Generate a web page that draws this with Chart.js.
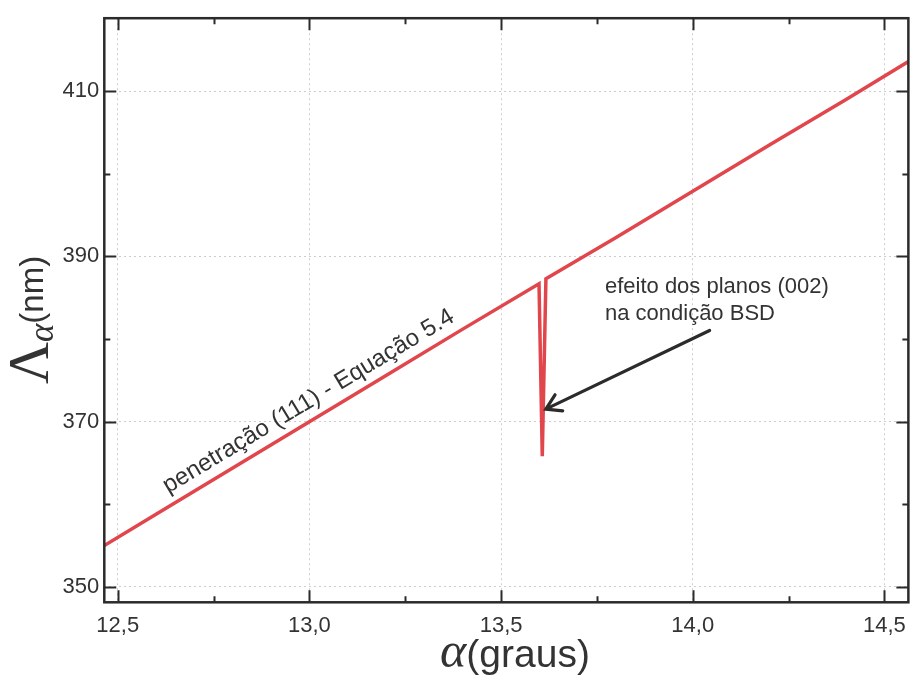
<!DOCTYPE html>
<html>
<head>
<meta charset="utf-8">
<script src="https://cdn.jsdelivr.net/npm/chart.js@4.4.1/dist/chart.umd.min.js"></script>
<style>
  html, body { margin: 0; padding: 0; background: #fff; }
  #wrap { width: 916px; height: 680px; position: relative; }
</style>
</head>
<body>
<div id="wrap"><canvas id="c" width="916" height="680"></canvas></div>
<script>
// Penetration depth Λα (nm) versus incidence angle α (degrees)
const alphaDeg = [12.465, 12.6, 12.8, 13.0, 13.2, 13.4, 13.599, 13.6075, 13.617, 13.8, 14.0, 14.2, 14.4, 14.5625];
const lambdaNm = [355.0, 358.8, 364.4, 370.0, 375.6, 381.2, 386.7, 365.8, 387.3, 392.3, 397.9, 403.5, 409.0, 413.6];

const xTicks = [12.5, 13.0, 13.5, 14.0, 14.5];
const xMinorTicks = [12.75, 13.25, 13.75, 14.25];
const yTicks = [350, 370, 390, 410];
const yMinorTicks = [360, 380, 400];

const X_MIN = 12.465, X_MAX = 14.5625;
const Y_MIN = 348.13, Y_MAX = 418.84;

// annotation anchors (data coordinates)
const lineLabel = { text: 'penetração (111) - Equação 5.4', a: 12.632, v: 361.3, from: [13.0, 370.0], to: [14.0, 397.9] };
const noteLines = ['efeito dos planos (002)', 'na condição BSD'];
const noteAnchor = { a: 13.771, v: [385.54, 382.35] };
const arrowTail = [14.044, 381.04];
const arrowTip = [13.6167, 371.52];

const INK = '#2b2b2b';
const TEXT = '#333333';

const points = alphaDeg.map((a, i) => ({ x: a, y: lambdaNm[i] }));

const framePlugin = {
  id: 'frameAndNotes',
  afterDraw(chart) {
    const { ctx, chartArea: ca, scales: { x, y } } = chart;
    ctx.save();
    // inward ticks on all four sides
    ctx.strokeStyle = INK;
    ctx.lineWidth = 2;
    const major = 12, minor = 6;
    const vTick = (val, len) => {
      const px = Math.round(x.getPixelForValue(val)) + 0.5;
      ctx.beginPath();
      ctx.moveTo(px, ca.bottom); ctx.lineTo(px, ca.bottom - len);
      ctx.moveTo(px, ca.top); ctx.lineTo(px, ca.top + len);
      ctx.stroke();
    };
    const hTick = (val, len) => {
      const py = Math.round(y.getPixelForValue(val)) + 0.5;
      ctx.beginPath();
      ctx.moveTo(ca.left, py); ctx.lineTo(ca.left + len, py);
      ctx.moveTo(ca.right, py); ctx.lineTo(ca.right - len, py);
      ctx.stroke();
    };
    xTicks.forEach(v => vTick(v, major));
    xMinorTicks.forEach(v => vTick(v, minor));
    yTicks.forEach(v => hTick(v, major));
    yMinorTicks.forEach(v => hTick(v, minor));

    // frame
    ctx.lineWidth = 2.5;
    ctx.strokeRect(ca.left, ca.top, ca.right - ca.left, ca.bottom - ca.top);

    // label along the line
    const p0 = [x.getPixelForValue(lineLabel.from[0]), y.getPixelForValue(lineLabel.from[1])];
    const p1 = [x.getPixelForValue(lineLabel.to[0]), y.getPixelForValue(lineLabel.to[1])];
    const ang = Math.atan2(p1[1] - p0[1], p1[0] - p0[0]);
    ctx.save();
    ctx.translate(x.getPixelForValue(lineLabel.a), y.getPixelForValue(lineLabel.v));
    ctx.rotate(ang);
    ctx.fillStyle = TEXT;
    ctx.font = '24px "Liberation Sans", Arial, sans-serif';
    ctx.textAlign = 'left';
    ctx.textBaseline = 'alphabetic';
    ctx.fillText(lineLabel.text, 0, 0);
    ctx.restore();

    // note text
    ctx.fillStyle = TEXT;
    ctx.font = '22px "Liberation Sans", Arial, sans-serif';
    ctx.textAlign = 'left';
    ctx.textBaseline = 'alphabetic';
    noteLines.forEach((t, i) => {
      ctx.fillText(t, x.getPixelForValue(noteAnchor.a), y.getPixelForValue(noteAnchor.v[i]));
    });

    // arrow
    const tx = x.getPixelForValue(arrowTail[0]), ty = y.getPixelForValue(arrowTail[1]);
    const hx = x.getPixelForValue(arrowTip[0]), hy = y.getPixelForValue(arrowTip[1]);
    const aa = Math.atan2(hy - ty, hx - tx);
    const headLen = 17, headHalf = 0.55;
    ctx.strokeStyle = INK;
    ctx.lineWidth = 3.2;
    ctx.lineCap = 'round';
    ctx.lineJoin = 'miter';
    ctx.beginPath();
    ctx.moveTo(tx, ty);
    ctx.lineTo(hx - Math.cos(aa) * 4, hy - Math.sin(aa) * 4);
    ctx.stroke();
    ctx.beginPath();
    ctx.moveTo(hx - headLen * Math.cos(aa - headHalf), hy - headLen * Math.sin(aa - headHalf));
    ctx.lineTo(hx, hy);
    ctx.lineTo(hx - headLen * Math.cos(aa + headHalf), hy - headLen * Math.sin(aa + headHalf));
    ctx.stroke();

    // axis titles
    ctx.fillStyle = TEXT;
    ctx.textBaseline = 'alphabetic';
    // x title: α(graus)
    const xParts = [
      { t: 'α', f: 'italic 50px "Liberation Serif", "DejaVu Serif", serif' },
      { t: '(graus)', f: '39px "Liberation Sans", Arial, sans-serif' }
    ];
    let wsum = 0;
    xParts.forEach(p => { ctx.font = p.f; p.w = ctx.measureText(p.t).width; wsum += p.w; });
    let cx = 515 - wsum / 2;
    xParts.forEach(p => { ctx.font = p.f; ctx.textAlign = 'left'; ctx.fillText(p.t, cx, 667); cx += p.w; });

    // y title: Λα(nm), rotated
    ctx.save();
    ctx.translate(48, 320);
    ctx.rotate(-Math.PI / 2);
    const yParts = [
      { t: 'Λ', f: '58px "Liberation Serif", "DejaVu Serif", serif', dy: 0 },
      { t: 'α', f: 'italic 35px "Liberation Serif", "DejaVu Serif", serif', dy: 5 },
      { t: '(nm)', f: '33px "Liberation Sans", Arial, sans-serif', dy: -5 }
    ];
    wsum = 0;
    yParts.forEach(p => { ctx.font = p.f; p.w = ctx.measureText(p.t).width; wsum += p.w; });
    let cy = -wsum / 2;
    yParts.forEach(p => { ctx.font = p.f; ctx.textAlign = 'left'; ctx.fillText(p.t, cy, p.dy); cy += p.w; });
    ctx.restore();

    ctx.restore();
  }
};

new Chart(document.getElementById('c'), {
  type: 'line',
  data: {
    datasets: [{
      data: points,
      borderColor: '#e0464b',
      borderWidth: 3.5,
      pointRadius: 0,
      tension: 0,
      fill: false,
      borderJoinStyle: 'miter'
    }]
  },
  options: {
    responsive: false,
    animation: false,
    events: [],
    layout: { padding: { top: 10.7, right: 6, left: 0, bottom: 0 } },
    plugins: { legend: { display: false }, tooltip: { enabled: false }, title: { display: false } },
    scales: {
      x: {
        type: 'linear',
        min: X_MIN, max: X_MAX,
        afterBuildTicks: s => { s.ticks = xTicks.map(v => ({ value: v })); },
        afterFit: s => { s.height = 77.7; },
        border: { display: false, dash: [2, 3] },
        grid: { color: '#cdcdcd', lineWidth: 1, drawTicks: false },
        ticks: {
          padding: 10,
          color: TEXT,
          font: { family: '"Liberation Sans", Arial, sans-serif', size: 22 },
          callback: v => v.toFixed(1).replace('.', ',')
        }
      },
      y: {
        type: 'linear',
        min: Y_MIN, max: Y_MAX,
        afterBuildTicks: s => { s.ticks = yTicks.map(v => ({ value: v })); },
        afterFit: s => { s.width = 104.3; },
        border: { display: false, dash: [2, 3] },
        grid: { color: '#cdcdcd', lineWidth: 1, drawTicks: false },
        ticks: {
          padding: 5,
          color: TEXT,
          font: { family: '"Liberation Sans", Arial, sans-serif', size: 22 },
          callback: v => String(v)
        }
      }
    }
  },
  plugins: [framePlugin]
});
</script>
</body>
</html>
